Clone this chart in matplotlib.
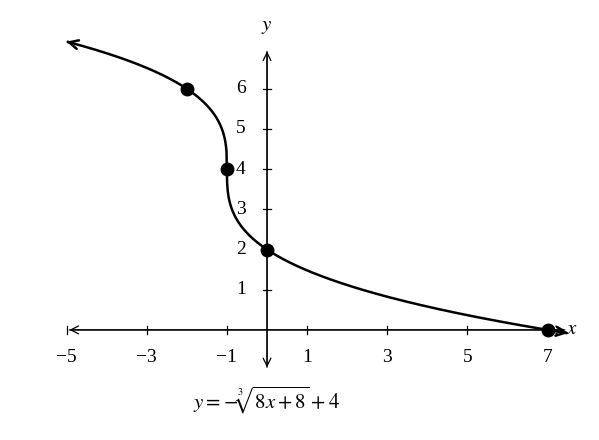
import numpy as np
import matplotlib
matplotlib.use("Agg")
import matplotlib.pyplot as plt

plt.rcParams['mathtext.fontset'] = 'stix'
plt.rcParams['font.family'] = ['Liberation Serif', 'DejaVu Serif']

# data
x_ticks = [-5, -3, -1, 1, 3, 5, 7]
y_ticks = [1, 2, 3, 4, 5, 6]
pts_x = [-2, -1, 0, 7]
pts_y = [6, 4, 2, 0]

fig = plt.figure(figsize=(5.99, 4.40), dpi=100)
ax = fig.add_axes([0, 0, 1, 1])
ax.set_xlim(-6.66, 8.28)
ax.set_ylim(-2.74, 8.21)
ax.axis('off')

# axes with arrows
ax.annotate('', xy=(-5, 0), xytext=(7.5, 0),
            arrowprops=dict(arrowstyle='->', lw=0.9, color='black', mutation_scale=14))
ax.annotate('', xy=(7.5, 0), xytext=(-5, 0),
            arrowprops=dict(arrowstyle='->', lw=0.9, color='black', mutation_scale=14))
ax.annotate('', xy=(0, 7), xytext=(0, -1),
            arrowprops=dict(arrowstyle='->', lw=0.9, color='black', mutation_scale=14))
ax.annotate('', xy=(0, -1), xytext=(0, 7),
            arrowprops=dict(arrowstyle='->', lw=0.9, color='black', mutation_scale=14))

# ticks
for t in x_ticks:
    ax.plot([t, t], [-0.1, 0.1], color='black', lw=0.9)
    ax.text(t, -0.68, '\u2212' + str(-t) if t < 0 else str(t),
            ha='center', va='center', fontsize=14)
for t in y_ticks:
    ax.plot([-0.1, 0.1], [t, t], color='black', lw=0.9)
    ax.text(-0.65, t, str(t), ha='center', va='center', fontsize=14)

ax.text(0, 7.55, r'$y$', ha='center', va='center', fontsize=15)
ax.text(7.45, 0, r'$x$', ha='left', va='center', fontsize=15)

# curve
xs = np.linspace(-5, 7.5, 800)
ys = -np.cbrt(8 * xs + 8) + 4
ax.plot(xs[3:-3], ys[3:-3], color='black', lw=1.8)
ax.annotate('', xy=(xs[0], ys[0]), xytext=(xs[6], ys[6]),
            arrowprops=dict(arrowstyle='->', lw=1.8, color='black', mutation_scale=16))
ax.annotate('', xy=(xs[-1], ys[-1]), xytext=(xs[-7], ys[-7]),
            arrowprops=dict(arrowstyle='->', lw=1.8, color='black', mutation_scale=16))

ax.plot(pts_x, pts_y, 'o', color='black', markersize=9)

ax.text(0, -1.75, r'$y=-\sqrt[3]{8x+8}+4$', ha='center', va='center', fontsize=15)

fig.savefig('out.png', dpi=100)
